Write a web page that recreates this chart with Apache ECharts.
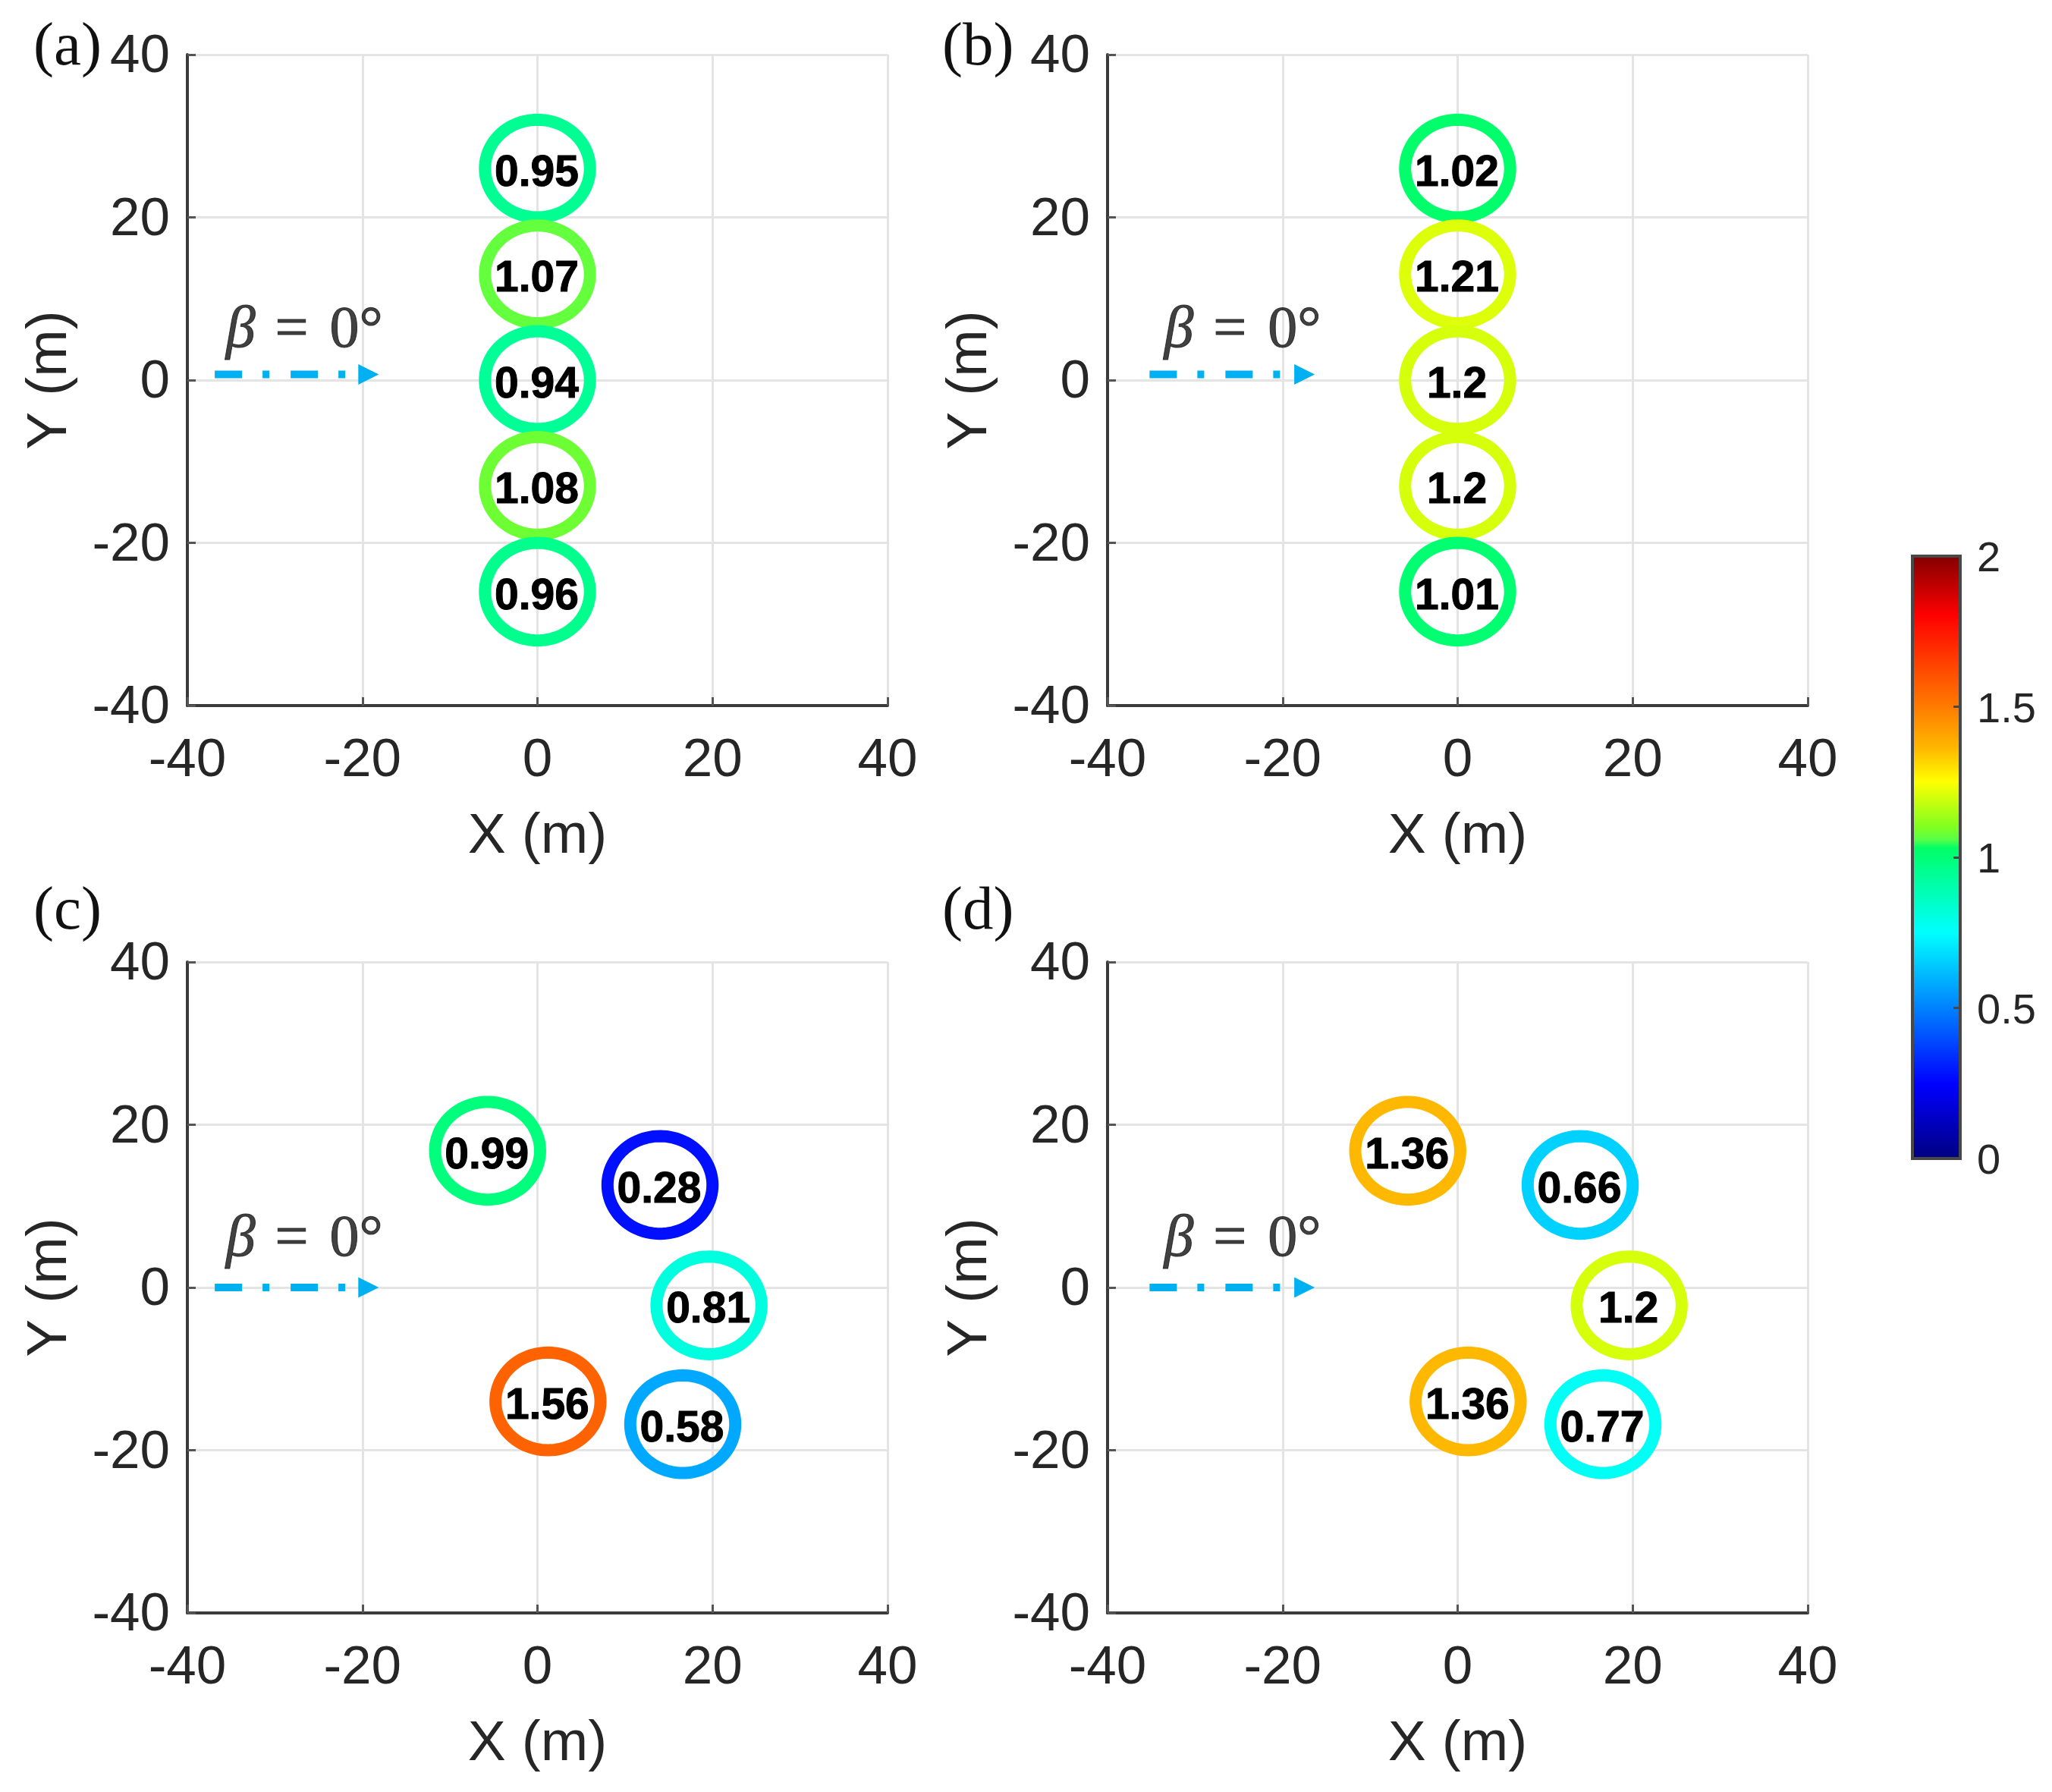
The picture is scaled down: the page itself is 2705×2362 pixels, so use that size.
<!DOCTYPE html>
<html><head><meta charset="utf-8">
<script src="https://cdn.jsdelivr.net/npm/echarts@6/dist/echarts.min.js"></script>
<style>html,body{margin:0;padding:0;background:#fff}#c{width:2705px;height:2362px}</style>
</head><body><div id="c"></div>
<script>
var panelTags = ['(a)', '(b)', '(c)', '(d)'];
var rowX = [0, 0, 0, 0, 0];
var rowY = [26, 13, 0, -13, -26];
var ringX = [-5.7, 14, 19.6, 1.2, 16.6];
var ringY = [16.8, 12.6, -2.2, -14, -16.8];
var valuesA = [0.95, 1.07, 0.94, 1.08, 0.96];
var valuesB = [1.02, 1.21, 1.2, 1.2, 1.01];
var valuesC = [0.99, 0.28, 0.81, 1.56, 0.58];
var valuesD = [1.36, 0.66, 1.2, 1.36, 0.77];
var arrowXA = [-36.87, -19.3];
var arrowXB = [-35.2, -17.5];
var arrowYTop = 0.7;
var arrowYBottom = 0;
var betaXA = -35.6;
var betaXB = -33.55;
var cmapStops = [0, 0.25, 0.5, 0.75, 1.03, 1.06, 1.1, 1.25, 1.36, 1.5, 1.8, 2];
var cmapColors = ['#00007f', '#0000ff', '#0080ff', '#00ffff', '#00ff66', '#5aff46', '#80ff20', '#ffff00', '#ffb800', '#ff7a00', '#ff0000', '#800000'];
var ringRadius = 6;

function hex(c) { return [1, 3, 5].map(function (i) { return parseInt(c.substr(i, 2), 16); }); }
function cmap(v) {
  for (var i = 1; i < cmapStops.length; i++) {
    if (v <= cmapStops[i]) {
      var t = (v - cmapStops[i - 1]) / (cmapStops[i] - cmapStops[i - 1]);
      var a = hex(cmapColors[i - 1]), b = hex(cmapColors[i]);
      return 'rgb(' + a.map(function (x, k) { return Math.round(x + (b[k] - x) * t); }).join(',') + ')';
    }
  }
  return cmapColors[cmapColors.length - 1];
}

var SANS = '"Liberation Sans", Arial, sans-serif';
var SERIF = '"Liberation Serif", "Times New Roman", serif';
var INK = '#262626';

var panels = [
  { left: 247, top: 72, xs: rowX, ys: rowY, vals: valuesA, ax: arrowXA, ay: arrowYTop, bx: betaXA, by: 6.0 },
  { left: 1460, top: 72, xs: rowX, ys: rowY, vals: valuesB, ax: arrowXB, ay: arrowYTop, bx: betaXB, by: 6.0 },
  { left: 247, top: 1268, xs: ringX, ys: ringY, vals: valuesC, ax: arrowXA, ay: arrowYBottom, bx: betaXA, by: 5.8 },
  { left: 1460, top: 1268, xs: ringX, ys: ringY, vals: valuesD, ax: arrowXB, ay: arrowYBottom, bx: betaXB, by: 5.8 }
];
var W = 923, H = 858;

var grids = [], xAxes = [], yAxes = [], series = [];
panels.forEach(function (p, idx) {
  grids.push({ left: p.left, top: p.top, width: W, height: H, outerBoundsMode: 'none' });
  var common = {
    type: 'value', min: -40, max: 40, interval: 20, gridIndex: idx,
    nameLocation: 'middle',
    nameTextStyle: { fontFamily: SANS, fontSize: 75, color: INK },
    axisLine: { show: true, onZero: false, lineStyle: { color: '#3a3a3a', width: 4 } },
    axisTick: { show: true, inside: true, length: 11, lineStyle: { color: '#555', width: 3 } },
    axisLabel: { fontFamily: SANS, fontSize: 71, color: INK, hideOverlap: false, showMinLabel: true, showMaxLabel: true },
    splitLine: { show: true, lineStyle: { color: '#e4e4e4', width: 3 } }
  };
  var xa = Object.assign({}, common, { name: 'X (m)', nameGap: 136, position: 'bottom' });
  xa.axisLabel = Object.assign({}, common.axisLabel, { margin: 38 });
  var ya = Object.assign({}, common, { name: 'Y (m)', nameGap: 143, position: 'left', nameRotate: 90 });
  ya.axisLabel = Object.assign({}, common.axisLabel, {
    margin: 23, formatter: '{v|{value}}',
    rich: { v: { fontFamily: SANS, fontSize: 71, color: INK, padding: [7, 0, 0, 0] } }
  });
  xAxes.push(xa); yAxes.push(ya);

  series.push({
    type: 'custom', xAxisIndex: idx, yAxisIndex: idx, coordinateSystem: 'cartesian2d', z: 5, clip: false,
    data: p.vals.map(function (v, i) { return [p.xs[i], p.ys[i], v]; }),
    renderItem: function (params, api) {
      var cx = api.value(0), cy = api.value(1), v = api.value(2), pts = [];
      for (var a = 0; a < 96; a++) {
        pts.push(api.coord([cx + ringRadius * Math.cos(a / 96 * 2 * Math.PI), cy + ringRadius * Math.sin(a / 96 * 2 * Math.PI)]));
      }
      var c = api.coord([cx, cy]);
      return { type: 'group', children: [
        { type: 'polygon', shape: { points: pts }, style: { fill: 'transparent', stroke: cmap(v), lineWidth: 16 } },
        { type: 'text', x: c[0] - 1, y: c[1] + 7, style: { text: String(v), fontFamily: SANS, fontWeight: 'bold', fontSize: 57, fill: '#000', stroke: '#000', lineWidth: 1, textAlign: 'center', textVerticalAlign: 'middle' } }
      ] };
    }
  });

  series.push({
    type: 'line', xAxisIndex: idx, yAxisIndex: idx, z: 6, silent: true,
    data: [
      { value: [p.ax[0], p.ay], symbol: 'none' },
      { value: [p.ax[1], p.ay], symbol: 'triangle', symbolRotate: -90, symbolSize: [27, 27] }
    ],
    lineStyle: { color: '#00b0f0', width: 10, type: [36, 27, 9, 28] },
    itemStyle: { color: '#00b0f0' },
    showSymbol: true, animation: false
  });

  series.push({
    type: 'scatter', xAxisIndex: idx, yAxisIndex: idx, z: 6, symbolSize: 0, silent: true,
    data: [[p.bx, p.by]],
    label: {
      show: true, position: 'right', distance: 0,
      formatter: '{b|β}{e|=}{n|0°}',
      rich: {
        b: { fontFamily: SERIF, fontStyle: 'italic', fontSize: 78, color: '#111', textBorderColor: '#111', textBorderWidth: 1 },
        e: { fontFamily: SERIF, fontSize: 78, color: '#111', padding: [0, 28, 0, 26], textBorderColor: '#111', textBorderWidth: 1 },
        n: { fontFamily: SERIF, fontSize: 78, color: '#111', textBorderColor: '#111', textBorderWidth: 1 }
      }
    }
  });
});

// colorbar
grids.push({ left: 2521, top: 733, width: 63, height: 794, outerBoundsMode: 'none' });
xAxes.push({ type: 'value', gridIndex: 4, min: 0, max: 1, show: false });
yAxes.push({
  type: 'value', gridIndex: 4, min: 0, max: 2, interval: 0.5, position: 'right', z: 8,
  axisLine: { show: true, onZero: false, lineStyle: { color: '#484848', width: 4 } },
  axisTick: { show: true, inside: true, length: 9, lineStyle: { color: '#484848', width: 3 } },
  axisLabel: {
    fontFamily: SANS, fontSize: 56, color: INK, margin: 22, showMinLabel: true, showMaxLabel: true,
    formatter: '{v|{value}}',
    rich: { v: { fontFamily: SANS, fontSize: 56, color: INK, padding: [10, 0, 0, 0] } }
  },
  splitLine: { show: false }
});
series.push({
  type: 'custom', xAxisIndex: 4, yAxisIndex: 4, z: 1, silent: true,
  data: [[0, 1, 0, 2]],
  renderItem: function (params, api) {
    var p0 = api.coord([api.value(0), api.value(2)]);
    var p1 = api.coord([api.value(1), api.value(3)]);
    var stops = cmapStops.map(function (s, i) { return { offset: 1 - s / 2, color: cmapColors[i] }; }).reverse();
    return { type: 'rect', shape: { x: p0[0], y: p1[1], width: p1[0] - p0[0], height: p0[1] - p1[1] },
      style: { fill: new echarts.graphic.LinearGradient(0, 0, 0, 1, stops), stroke: '#484848', lineWidth: 4 } };
  }
});

var chart = echarts.init(document.getElementById('c'), null, { renderer: 'canvas' });
chart.setOption({
  animation: false,
  backgroundColor: '#ffffff',
  grid: grids, xAxis: xAxes, yAxis: yAxes, series: series,
  graphic: [
    { pos: [44, 64] }, { pos: [1242, 64] }, { pos: [44, 1203] }, { pos: [1242, 1203] }
  ].map(function (g, i) {
    return { type: 'text', x: g.pos[0], y: g.pos[1], style: { text: panelTags[i], fontFamily: SERIF, fontSize: 81, fill: '#111', textVerticalAlign: 'middle' } };
  })
});
</script></body></html>
